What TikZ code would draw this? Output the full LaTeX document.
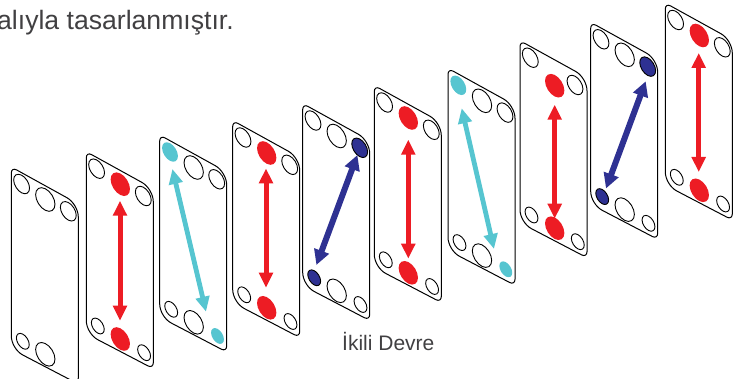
\documentclass[tikz,border=0pt]{standalone}
\usepackage{fontspec}
\setmainfont{Liberation Sans}
\usetikzlibrary{arrows.meta,shapes.geometric}
\definecolor{pred}{HTML}{ED1C24}
\definecolor{pcyan}{HTML}{56C5D0}
\definecolor{pblue}{HTML}{2E3192}
\definecolor{ptext}{HTML}{414042}
\tikzset{
  x=1pt,y=-1pt,
  plate/.style={draw=black,line width=1pt},
  hole/.style={ellipse,draw=black,line width=0.9pt,fill=white,inner sep=0pt,rotate=32},
  bighole/.style={hole,minimum width=16pt,minimum height=26pt},
  midhole/.style={hole,minimum width=13pt,minimum height=21.5pt},
  smallhole/.style={hole,minimum width=10.5pt,minimum height=17.5pt},
  redport/.style={fill=pred,draw=none},
  cyanport/.style={fill=pcyan,draw=none},
  blueport/.style={fill=pblue,draw=black},
  redflow/.style={draw=pred,line width=5pt,{Triangle[length=15pt,width=13.5pt]}-{Triangle[length=15pt,width=13.5pt]}},
  cyanflow/.style={redflow,draw=pcyan,line width=4.8pt},
  blueflow/.style={draw=pblue,line width=6pt,{Triangle[length=15pt,width=15pt]}-{Triangle[length=15pt,width=15pt]}},
}
\newcommand{\plateoutline}{%
  \draw[plate] (0,90) [rounded corners=6pt] -- (0,0) [rounded corners=13pt] -- (67,37) [rounded corners=6pt] -- (67,217) [rounded corners=13pt] -- (0,182) [sharp corners] -- cycle;}
% #1 name, #2 x, #3 y, #4..#9 styles of the six ports
\newcommand{\plateat}[9]{%
  \begin{scope}[shift={(#2,#3)}]
    \plateoutline
    \node[midhole,#4] (#1a) at (10.3,17) {};
    \node[bighole,#5] (#1b) at (34,32.5) {};
    \node[midhole,#6] (#1c) at (57,44.3) {};
    \node[smallhole,#7] (#1d) at (11.5,174.3) {};
    \node[bighole,#8] (#1e) at (34,187.3) {};
    \node[smallhole,#9] (#1f) at (57.8,201) {};
  \end{scope}}
\begin{document}
\begin{tikzpicture}
\path[use as bounding box] (0,0) rectangle (740,379);
\clip (0,0) rectangle (740,379);
% plate 1
\begin{scope}[shift={(11.3,167)}]
  \plateoutline
  \node[midhole] (Aa) at (10.3,17) {};
  \node[bighole] (Ab) at (34,32.5) {};
  \node[midhole] (Ac) at (57,44.3) {};
  \node[smallhole] (Ad) at (11.5,174.3) {};
  \node[bighole] (Ae) at (34,187.3) {};
\end{scope}
\plateat{B}{86.3}{151.7}{}{redport}{}{}{redport}{}
\plateat{C}{159.7}{135}{cyanport}{}{}{}{}{cyanport}
\plateat{D}{232.7}{120.5}{}{redport}{}{}{redport}{}
\plateat{E}{302.7}{103.5}{}{}{blueport}{blueport}{}{}
\plateat{F}{374.3}{85.5}{}{redport}{}{}{redport}{}
\plateat{G}{448}{68.3}{cyanport}{}{}{}{}{cyanport}
% plate 8: upper red port sits lower than usual
\begin{scope}[shift={(520,40.7)}]
  \plateoutline
  \node[midhole] (Ha) at (10.3,17) {};
  \node[bighole,redport] (Hb) at (34.7,45) {};
  \node[midhole] (Hc) at (55,44.3) {};
  \node[smallhole] (Hd) at (11.5,174.3) {};
  \node[bighole,redport] (He) at (34.7,187.5) {};
  \node[smallhole] (Hf) at (57.8,201) {};
\end{scope}
\plateat{I}{590.7}{22.3}{}{}{blueport}{blueport}{}{}
\plateat{J}{665.3}{3}{}{redport}{}{}{redport}{}
% flows
\coordinate (B1) at (120,200.7); \coordinate (B2) at (120,320.7);
\draw[redflow] (B1) -- (B2);
\coordinate (C1) at (172.4,169); \coordinate (C2) at (206,311.7);
\draw[cyanflow] (C1) -- (C2);
\coordinate (D1) at (266,168.4); \coordinate (D2) at (266,287.7);
\draw[redflow] (D1) -- (D2);
\coordinate (E1) at (357.4,155); \coordinate (E2) at (316.4,265);
\draw[blueflow] (E1) -- (E2);
\coordinate (F1) at (408.3,139.7); \coordinate (F2) at (408.3,258.7);
\draw[redflow] (F1) -- (F2);
\coordinate (G1) at (461.7,108.3); \coordinate (G2) at (494,249);
\draw[cyanflow] (G1) -- (G2);
\coordinate (H1) at (554.7,104.7); \coordinate (H2) at (554.7,218.7);
\draw[redflow] (H1) -- (H2);
\coordinate (I1) at (645.7,81.3); \coordinate (I2) at (606,188.5);
\draw[blueflow] (I1) -- (I2);
\coordinate (J1) at (698.7,53); \coordinate (J2) at (698.7,172);
\draw[redflow] (J1) -- (J2);
% texts
\node[anchor=base west,inner sep=0pt,text=ptext,font=\fontsize{26.6pt}{30pt}\selectfont] (head) at (-3,30) {alıyla tasarlanmıştır.};
\node[anchor=base west,inner sep=0pt,text=ptext,font=\fontsize{21pt}{24pt}\selectfont] (cap) at (342,351) {İkili Devre};
\end{tikzpicture}
\end{document}
